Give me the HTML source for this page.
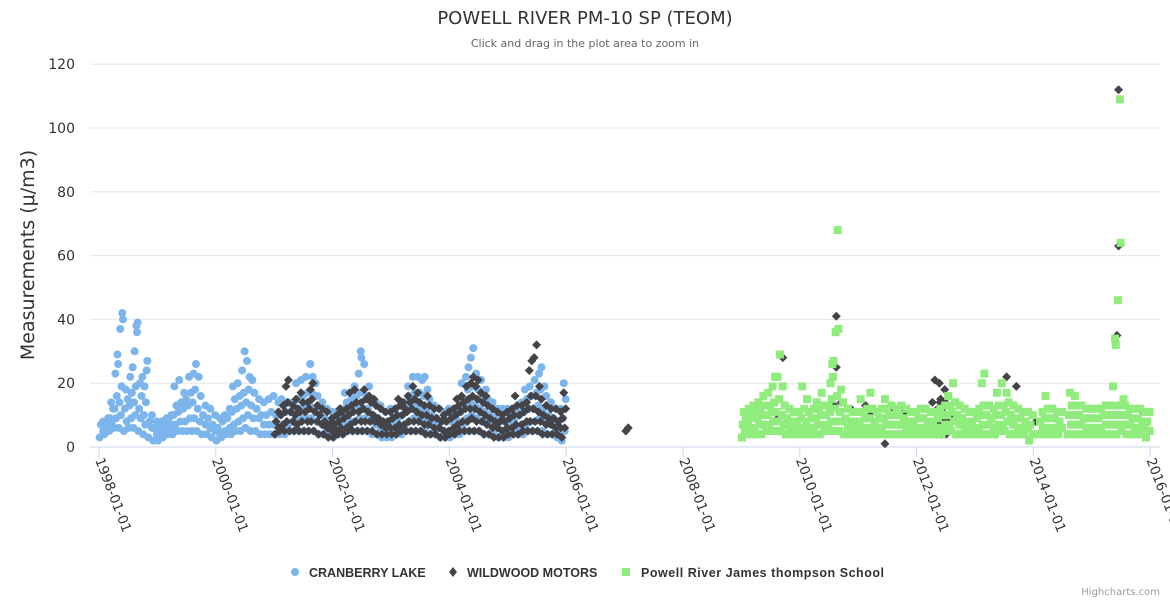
<!DOCTYPE html>
<html><head><meta charset="utf-8"><style>
body{margin:0;background:#fff;}
svg{display:block;font-family:"DejaVu Sans","Liberation Sans",sans-serif;}
</style></head><body>
<svg id="chart" width="1170" height="600">
<text x="585" y="24" text-anchor="middle" font-size="18" fill="#333">POWELL RIVER PM-10 SP (TEOM)</text>
<text x="585" y="47" text-anchor="middle" font-size="11" fill="#666">Click and drag in the plot area to zoom in</text>
<text transform="translate(34,255) rotate(-90)" text-anchor="middle" font-size="19" fill="#333">Measurements (μ/m3)</text>
<g id="grid"></g><g id="xaxis"></g><g id="marks"></g>
<g font-family="Liberation Sans, sans-serif">
<g><circle cx="295" cy="572" r="4" fill="#7cb5ec"/><text x="309" y="577" font-size="12.5" font-weight="bold" fill="#333">CRANBERRY LAKE</text></g>
<g><path d="M453 567 L457 572 L453 577 L449 572Z" fill="#434348"/><text x="467" y="577" font-size="12.5" font-weight="bold" fill="#333">WILDWOOD MOTORS</text></g>
<g><rect x="622" y="568" width="8" height="8" fill="#90ed7d"/><text x="641" y="577" font-size="12.5" font-weight="bold" fill="#333" textLength="243" lengthAdjust="spacing">Powell River James thompson School</text></g>
</g>
<text x="1160" y="595" text-anchor="end" font-size="10" fill="#999">Highcharts.com</text>
</svg>
<script>
const yTicks=[0,20,40,60,80,100,120];
const xTickYears=[1998,2000,2002,2004,2006,2008,2010,2012,2014,2016];
const cranStart="1998-01";
const cranVals=["3,5,7,8","4,6,7,9","5,7,9,12,14","6,9,12,16,23,26,29","6,10,14,19,37,40,42","5,8,12,15,18","6,9,13,17,22,25","6,10,14,19,30,36,38,39","5,9,12,16,20,22","4,7,10,14,19,27,24","3,6,8,10","2,4,6,8",
"2,4,6,8","3,5,7,9","4,6,8,10","4,7,10,13,19","5,8,11,14,21","5,8,12,15,17","5,9,13,17,22","5,9,14,18,23,26","5,8,12,16,22","4,7,10,13","4,6,9,12","3,5,7,10",
"2,4,6,9","3,5,8,10","4,6,9,12","4,7,11,15,19","5,8,12,16,20","5,9,13,17,24,30","6,10,14,18,27,22","5,9,13,17,21","5,9,12,15","4,7,10,14","4,7,10,15","4,7,11,16",
"4,7,10,14","4,7,10,13,15","4,7,11,14","5,8,11,14","5,8,12,15,20","5,9,12,16,21","5,9,13,17,22","5,9,13,17,26,22","5,8,12,16,20","4,7,10,14","4,6,9,12","4,6,8,11",
"3,5,8,11","4,6,9,12","4,7,10,14,17","5,8,11,15","5,8,12,16,19","5,9,13,17,23,28,30","5,9,12,16,26","5,8,12,15,19","4,7,10,14","4,6,9,13","3,5,8,11","3,5,8,12",
"3,5,8,12","4,6,9,13","4,7,10,14","5,8,12,16,19","5,9,13,17,22","5,9,13,17,22","5,8,12,16,21,22","5,8,11,15,18","4,7,10,13","4,6,9,12","3,5,8,11","3,5,8,12",
"3,5,8,11","4,6,9,12","4,7,11,15,20","5,9,13,18,22,25","5,10,14,19,28,31","5,9,13,18,23","5,8,12,16,21","4,8,11,15,18","4,7,10,14","4,6,9,12","3,5,8,12","3,5,8,12",
"3,5,8,11","4,6,9,12","4,7,10,14","4,7,11,15,18","5,8,12,16,19","5,8,12,17,21","5,9,13,18,23,25","5,8,12,16,19","4,7,10,14","4,6,9,12","3,5,8,12","2,5,9,15,20"];
const wildStart="2001-01";
const wildVals=["4,6,8,11","5,7,10,13","5,8,11,14,19,21","5,8,11,13","5,7,10,12,15","5,8,11,14,17","5,8,11,14","5,8,12,15,18,20","5,8,11,13","4,7,10,12","4,6,8,11","3,5,7,9",
"3,5,7,10","4,6,8,11,12","4,6,9,12","5,7,10,13,17","5,8,11,14,18","5,8,11,14","5,8,12,15,18","5,8,11,14,16","5,8,10,13,15","4,7,9,12","4,6,8,11","4,6,8,11",
"4,6,9,12","4,7,10,13,15","5,7,10,12,14","5,8,11,14,16","5,8,12,15,19","5,8,11,14,17","5,7,10,13","4,7,10,13,16","4,6,9,12","4,6,9,12","3,5,8,10","3,5,8,11",
"4,6,9,12","4,7,10,13,15","5,8,11,14,16","5,8,12,15,19","5,9,12,16,20,22","5,8,12,15,19,21","5,8,11,14,17","4,7,10,13,16","4,6,9,12","3,6,8,11","3,5,8,10","3,6,8,11",
"4,6,9,12","4,7,10,13,16","4,7,10,13","5,8,11,14","5,8,12,16,24,27","5,8,12,16,28,32","5,8,11,15,19","4,7,10,13","4,7,9,12","4,6,9,12","4,6,8,11","3,6,9,12,17"];
const wildLateMonths=["2007-01","2009-08","2009-09","2010-08","2010-09","2010-11","2011-02","2011-03","2011-06","2011-07","2011-10","2012-04","2012-05","2012-06","2012-07","2012-09","2013-07","2013-09","2014-01","2015-06","2015-11"];
const wildLateVals=["5,6","9","28","13,25,41","14","12","13","10","1","12","11","14,21","4,6,8,10,12,14,20,15","4,6,8,10,12,14,18","4,6,8,10,13","10","22","19","8","35,63,112","11"];
const greenStart="2009-01";
const greenVals=["3,5,7,9,11","4,6,8,10,12","4,6,9,11,13","4,7,9,12,14","4,7,10,13,16","5,7,10,13,17","5,8,11,14,19,22","5,8,11,15,22,29","5,7,10,13,19","4,6,9,12","4,6,8,11","4,6,8,11",
"4,6,9,12,19","4,6,8,11,15","4,6,9,12","4,7,9,12,14","4,7,10,13,17","5,7,10,13","5,8,11,15,20,22,26,27","5,8,12,16,36,37,68","5,8,11,14,18","4,6,9,12","4,6,8,11","4,6,8,11",
"4,6,8,11,15","4,6,9,12","4,6,9,12,17","4,6,8,11","4,6,9,12","4,7,9,12,15","4,7,10,13","4,7,10,12","4,7,10,13","4,6,9,12","4,6,8,11","4,6,8,11",
"4,6,9,12","4,6,9,12","4,6,8,11","4,6,8,11","4,6,9,12","4,7,10,13","5,7,10,13,16","5,8,11,14,20","4,7,10,13","4,6,9,12","4,6,8,11","4,6,8,11",
"4,6,9,12","4,7,10,13,20,23","4,7,10,13","4,6,9,12","4,7,10,13,17","5,7,10,13,20","5,8,11,14,17","4,7,10,13","4,6,9,12","4,6,9,11","4,6,8,11","2,4,7,10",
"","4,6,8,11","4,6,9,12,16","4,6,9,12","4,6,9,11","4,6,8,11","","4,7,10,13,17","4,7,10,13,16","4,7,10,13","4,6,9,12","4,6,9,12",
"4,6,9,12","4,6,9,12","4,7,10,13","4,7,10,13","4,7,10,13,19,32,34","4,7,10,13,46,64,109","5,7,10,13,15","4,7,10,12","4,6,9,12","4,6,9,12","4,6,8,11","3,5,8,11"];

const NS="http://www.w3.org/2000/svg";
const X0=99,PXY=58.4,Y0=447,PXU=3.19,L=90,R=1160;
const xs=t=>X0+(t-1998)*PXY, ys=v=>Y0-v*PXU;
function mk(tag,at,parent){const e=document.createElementNS(NS,tag);for(const k in at)e.setAttribute(k,at[k]);parent.appendChild(e);return e;}
const grid=document.getElementById('grid'),xa=document.getElementById('xaxis'),marks=document.getElementById('marks');
yTicks.forEach(v=>{
  const ln=mk('line',{x1:L,x2:R,y1:ys(v),y2:ys(v),stroke:v===0?'#ccd6eb':'#e6e6e6','stroke-width':1},grid);
  
  
  const t=mk('text',{x:75,y:ys(v)+5,'text-anchor':'end','font-size':14,fill:'#333'},grid);
  t.textContent=v;
  
  
});
xTickYears.forEach(yr=>{
  const x=xs(yr);
  const tk=mk('line',{x1:x,x2:x,y1:Y0,y2:Y0+10,stroke:'#ccd6eb'},xa);
  
  
  const t=mk('text',{transform:`translate(${x-4},${Y0+13}) rotate(69)`,'font-size':13.5,fill:'#333'},xa);
  t.textContent=yr+'-01-01';
  
  
});
function monthT(start,i){const [y,m]=start.split('-').map(Number);return y+(m-1+i)/12;}
function drawPt(kind,t,v){
  const x=xs(t),y=ys(v);let e;
  if(kind==='c'){e=mk('circle',{cx:x,cy:y,r:4,fill:'#7cb5ec'},marks);}
  else if(kind==='d'){e=mk('path',{d:`M${x} ${y-4.5}L${x+4.5} ${y}L${x} ${y+4.5}L${x-4.5} ${y}Z`,fill:'#434348'},marks);}
  else{e=mk('rect',{x:x-4,y:y-4,width:8,height:8,fill:'#90ed7d'},marks);}
  
}
const order=[0,3,1,4,2,6,5,7,8,9];
function drawMonth(kind,t0,str){
  if(!str)return;const vals=str.split(',').map(Number);const n=vals.length;
  vals.forEach((v,j)=>{const p=(order[j]!==undefined&&order[j]<n)?order[j]:j;drawPt(kind,t0+((p+0.5)/n)/12,v);});
}
cranVals.forEach((s,i)=>drawMonth('c',monthT(cranStart,i),s));
wildVals.forEach((s,i)=>drawMonth('d',monthT(wildStart,i),s));
wildLateMonths.forEach((m,i)=>drawMonth('d',monthT(m,0),wildLateVals[i]));
greenVals.forEach((s,i)=>drawMonth('g',monthT(greenStart,i),s));
</script>
</body></html>
